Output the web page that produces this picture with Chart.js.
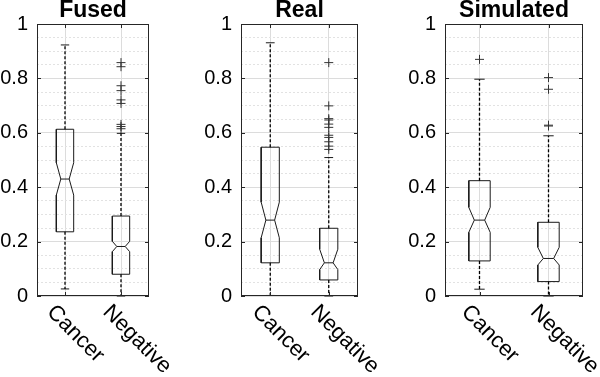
<!DOCTYPE html>
<html><head><meta charset="utf-8">
<script src="https://cdn.jsdelivr.net/npm/chart.js@4.4.0/dist/chart.umd.min.js"></script>
<style>
html,body{margin:0;padding:0;background:#fff;overflow:hidden;width:600px;height:377px;position:relative;}
canvas{position:absolute;top:0;}
</style></head><body>
<canvas id="c0"></canvas><canvas id="c1"></canvas><canvas id="c2"></canvas>
<script>
// ---------- data ----------
const panelTitles = ['Fused', 'Real', 'Simulated'];
const categories = ['Cancer', 'Negative'];
const yTickValues = [0, 0.2, 0.4, 0.6, 0.8, 1];
// per panel: [Cancer, Negative]
const lowerWhisker = [[0.026, 0.0], [0.002, 0.0], [0.025, 0.0]];
const q1 = [[0.236, 0.080], [0.122, 0.059], [0.129, 0.053]];
const notchLow = [[0.371, 0.163], [0.214, 0.097], [0.234, 0.114]];
const median = [[0.430, 0.182], [0.279, 0.122], [0.279, 0.138]];
const notchHigh = [[0.490, 0.201], [0.345, 0.172], [0.326, 0.179]];
const q3 = [[0.613, 0.294], [0.547, 0.249], [0.424, 0.271]];
const upperWhisker = [[0.923, 0.598], [0.931, 0.509], [0.797, 0.589]];
const fusedOutliers = [[], [0.858, 0.843, 0.773, 0.755, 0.721, 0.708, 0.631, 0.623, 0.615]];
const realOutliers = [[], [0.858, 0.699, 0.652, 0.647, 0.632, 0.620, 0.591, 0.583, 0.567, 0.551, 0.539]];
const simulatedOutliers = [[0.870], [0.803, 0.760, 0.628, 0.625]];
const outliers = [fusedOutliers, realOutliers, simulatedOutliers];

// ---------- layout / style ----------
const FONT = "'Liberation Sans', Arial, Helvetica, sans-serif";
const AXIS_W = 36;
const PLOT_LEFT = [37, 241, 445];
const PLOT_WIDTH = [112, 117, 138];
const CANVAS_H = 377;
const PLOT_BOTTOM = 296;
const BOX_HALF = 0.155, NOTCH_HALF = 0.075, CAP_HALF = 0.075;
const LINE_COLOR = '#1a1a1a';
const MAJOR_GRID = '#dcdcdc';
const MINOR_GRID = '#e2e2e2';

function lineDs(points, dash, width) {
  return {
    type: 'scatter', data: points, showLine: true, fill: false, tension: 0,
    pointRadius: 0, borderColor: dash ? '#000' : LINE_COLOR, borderWidth: width || 1,
    borderDash: dash || [], borderJoinStyle: 'miter', clip: false
  };
}

function panelDatasets(p) {
  const ds = [];
  categories.forEach((name, i) => {
    const c = i + 1;
    const lo = lowerWhisker[p][i], a = q1[p][i], nl = notchLow[p][i], md = median[p][i],
          nh = notchHigh[p][i], b = q3[p][i], hi = upperWhisker[p][i];
    ds.push(lineDs([{x: c, y: b}, {x: c, y: hi}], [3, 2], 1.3));
    ds.push(lineDs([{x: c, y: a}, {x: c, y: lo}], [3, 2], 1.3));
    ds.push(lineDs([{x: c - CAP_HALF, y: hi}, {x: c + CAP_HALF, y: hi}]));
    ds.push(lineDs([{x: c - CAP_HALF, y: lo}, {x: c + CAP_HALF, y: lo}]));
    ds.push(lineDs([
      {x: c - NOTCH_HALF, y: md}, {x: c + NOTCH_HALF, y: md},
      {x: c + BOX_HALF, y: nh}, {x: c + BOX_HALF, y: b},
      {x: c - BOX_HALF, y: b}, {x: c - BOX_HALF, y: nh},
      {x: c - NOTCH_HALF, y: md}, {x: c - BOX_HALF, y: nl},
      {x: c - BOX_HALF, y: a}, {x: c + BOX_HALF, y: a},
      {x: c + BOX_HALF, y: nl}, {x: c + NOTCH_HALF, y: md}
    ]));
    ds.push({
      type: 'scatter', data: outliers[p][i].map(v => ({x: c, y: v})),
      showLine: false, pointStyle: 'cross', pointRadius: 4.5, pointBorderWidth: 1,
      borderColor: '#333', pointBorderColor: '#333', clip: false
    });
  });
  return ds;
}

const framePlugin = {
  id: 'frame',
  afterDatasetsDraw(chart) {
    const {ctx, chartArea: ar, scales} = chart;
    ctx.save();
    ctx.strokeStyle = '#262626';
    ctx.lineWidth = 1;
    ctx.strokeRect(ar.left + 0.5, ar.top + 0.5, ar.right - ar.left - 1, ar.bottom - ar.top - 1);
    ctx.beginPath();
    yTickValues.forEach(v => {
      const y = Math.round(scales.y.getPixelForValue(v)) + 0.5;
      ctx.moveTo(ar.left, y); ctx.lineTo(ar.left + 4, y);
      ctx.moveTo(ar.right, y); ctx.lineTo(ar.right - 4, y);
    });
    categories.forEach((n, i) => {
      const x = Math.round(scales.x.getPixelForValue(i + 1)) + 0.5;
      ctx.moveTo(x, ar.bottom); ctx.lineTo(x, ar.bottom - 4);
      ctx.moveTo(x, ar.top); ctx.lineTo(x, ar.top + 4);
    });
    ctx.stroke();
    ctx.restore();
  },
  afterDraw(chart) {
    const {ctx, chartArea: ar, scales} = chart;
    ctx.save();
    ctx.font = '22px ' + FONT;
    ctx.fillStyle = '#000';
    ctx.textAlign = 'left';
    ctx.textBaseline = 'top';
    categories.forEach((name, i) => {
      const x = scales.x.getPixelForValue(i + 1);
      ctx.save();
      ctx.translate(x - 7, ar.bottom + 5);
      ctx.rotate(Math.PI / 4);
      ctx.fillText(name, 0, 0);
      ctx.restore();
    });
    ctx.restore();
  }
};

panelTitles.forEach((title, p) => {
  const cv = document.getElementById('c' + p);
  const w = PLOT_WIDTH[p] + 2 * AXIS_W;
  cv.width = w; cv.height = CANVAS_H;
  cv.style.left = (PLOT_LEFT[p] - AXIS_W) + 'px';
  cv.style.width = w + 'px'; cv.style.height = CANVAS_H + 'px';
  new Chart(cv, {
    type: 'scatter',
    data: {datasets: panelDatasets(p)},
    options: {
      responsive: false, animation: false, events: [],
      devicePixelRatio: 1,
      layout: {padding: 0},
      plugins: {
        legend: {display: false}, tooltip: {enabled: false},
        title: {
          display: true, text: title, color: '#000',
          font: {family: FONT, size: 23, weight: 'bold', lineHeight: 21 / 23},
          padding: {top: 0, bottom: 3}
        }
      },
      scales: {
        x: {
          type: 'linear', position: 'bottom', min: 0.5, max: 2.5,
          afterBuildTicks: s => { s.ticks = categories.map((n, i) => ({value: i + 1})); },
          afterFit: s => { s.height = CANVAS_H - PLOT_BOTTOM; },
          ticks: {display: false},
          grid: {color: MAJOR_GRID, drawTicks: false},
          border: {display: false}
        },
        y: {
          type: 'linear', position: 'left', min: 0, max: 1,
          afterBuildTicks: s => { s.ticks = yTickValues.map(v => ({value: v})); },
          afterFit: s => { s.width = AXIS_W; },
          ticks: {
            color: '#000', padding: 9, font: {family: FONT, size: 20},
            callback: v => String(+(+v).toFixed(2))
          },
          grid: {color: MAJOR_GRID, drawTicks: false},
          border: {display: false}
        },
        y2: {
          type: 'linear', position: 'right', min: 0, max: 1,
          ticks: {display: false, stepSize: 0.05},
          afterFit: s => { s.width = AXIS_W; },
          grid: {
            drawTicks: false,
            color: ctx => {
              const v = ctx.tick ? ctx.tick.value : 0;
              return Math.abs(v / 0.2 - Math.round(v / 0.2)) < 1e-6 ? 'rgba(0,0,0,0)' : MINOR_GRID;
            }
          },
          border: {display: false, dash: [2, 2]}
        }
      }
    },
    plugins: [framePlugin]
  });
});
</script>
</body></html>
